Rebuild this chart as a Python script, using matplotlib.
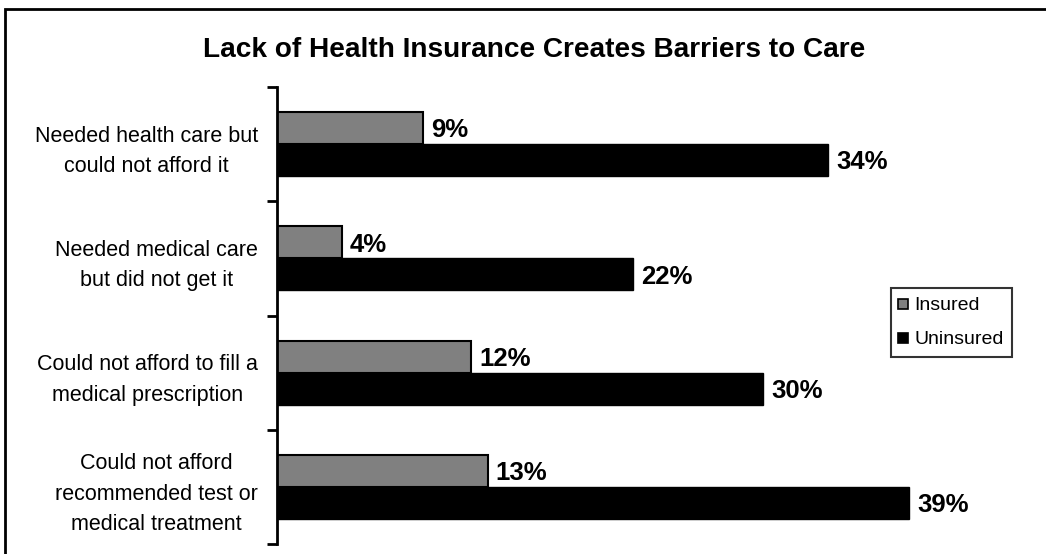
import matplotlib.pyplot as plt
from matplotlib.lines import Line2D
from matplotlib.patches import Rectangle

plt.rcParams['font.family'] = ['Liberation Sans', 'DejaVu Sans']

categories = ['Needed health care but\ncould not afford it',
              'Needed medical care\nbut did not get it',
              'Could not afford to fill a\nmedical prescription',
              'Could not afford\nrecommended test or\nmedical treatment']
insured = [9, 4, 12, 13]
uninsured = [34, 22, 30, 39]
series_names = ['Insured', 'Uninsured']
insured_color = '#808080'
uninsured_color = '#000000'

W, H = 1046, 554
fig = plt.figure(figsize=(W / 100, H / 100), dpi=100)
ax = fig.add_axes([277 / W, 1 - 544 / H, (1006 - 277) / W, (544 - 87) / H])

pos = list(range(len(categories)))
bh = 0.28
ax.barh([p - bh / 2 for p in pos], insured, height=bh, color=insured_color,
        edgecolor='black', linewidth=1.5)
ax.barh([p + bh / 2 for p in pos], uninsured, height=bh, color=uninsured_color,
        edgecolor='black', linewidth=1.0)

for p, v in zip(pos, insured):
    ax.text(v + 0.5, p - bh / 2 + 0.02, '{}%'.format(v), va='center', ha='left',
            fontsize=18.5, fontweight='bold')
for p, v in zip(pos, uninsured):
    ax.text(v + 0.5, p + bh / 2 + 0.02, '{}%'.format(v), va='center', ha='left',
            fontsize=18.5, fontweight='bold')

ax.set_xlim(0, 45)
ax.set_ylim(3.5, -0.5)
ax.set_xticks([])
ax.set_yticks(pos)
ax.set_yticklabels(categories, fontsize=15.5, multialignment='center', linespacing=1.6)
ax.set_yticks([-0.5, 0.5, 1.5, 2.5, 3.5], minor=True)
ax.tick_params(axis='y', which='major', length=0, pad=13.7)
ax.tick_params(axis='y', which='minor', length=7, width=2, direction='out')
for s in ['top', 'right', 'bottom']:
    ax.spines[s].set_visible(False)
ax.spines['left'].set_linewidth(2)

fig.text(534 / W, 1 - 50 / H, 'Lack of Health Insurance Creates Barriers to Care',
         ha='center', va='center', fontsize=20.2, fontweight='bold')

handles = [Line2D([], [], marker='s', linestyle='none', markersize=7.5,
                  markerfacecolor=insured_color, markeredgecolor='black', markeredgewidth=1.2),
           Line2D([], [], marker='s', linestyle='none', markersize=7.5,
                  markerfacecolor=uninsured_color, markeredgecolor='black', markeredgewidth=1.2)]
leg = fig.legend(handles, series_names, loc='upper left',
                 bbox_to_anchor=(891 / W, 1 - 288 / H), borderaxespad=0,
                 fontsize=14, frameon=True, fancybox=False, handlelength=0.35,
                 handletextpad=0.4, labelspacing=0.85, borderpad=0.45)
leg.get_frame().set_edgecolor('black')
leg.get_frame().set_linewidth(1.5)

fig.add_artist(Rectangle((4.5 / W, -0.1), 1.5, 1 - 9.5 / H + 0.1,
                         transform=fig.transFigure, fill=False, linewidth=2,
                         edgecolor='black'))

fig.savefig('out.png', dpi=100)
